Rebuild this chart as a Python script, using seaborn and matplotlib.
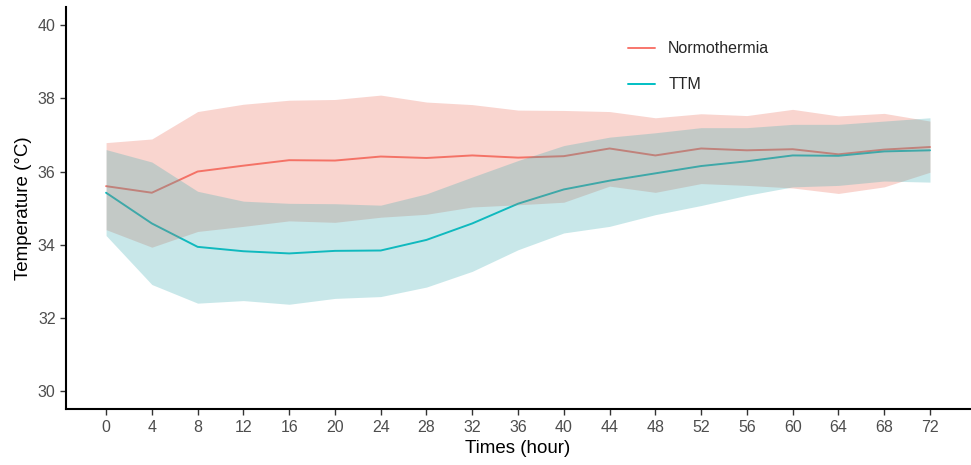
import numpy as np
import pandas as pd
import matplotlib
matplotlib.use("Agg")
import matplotlib.pyplot as plt
import seaborn as sns

hours = [0, 4, 8, 12, 16, 20, 24, 28, 32, 36, 40, 44, 48, 52, 56, 60, 64, 68, 72]

norm_mean = [35.60, 35.42, 36.00, 36.16, 36.31, 36.30, 36.41, 36.37, 36.44, 36.38,
             36.42, 36.63, 36.44, 36.63, 36.58, 36.61, 36.47, 36.60, 36.67]
norm_upper = [36.79, 36.89, 37.64, 37.84, 37.95, 37.97, 38.09, 37.90, 37.83, 37.68,
              37.67, 37.64, 37.47, 37.58, 37.53, 37.70, 37.52, 37.59, 37.38]
norm_lower = [34.41, 33.93, 34.36, 34.50, 34.65, 34.61, 34.75, 34.83, 35.03, 35.09,
              35.16, 35.60, 35.43, 35.67, 35.62, 35.55, 35.40, 35.58, 35.98]

ttm_mean = [35.42, 34.58, 33.94, 33.82, 33.76, 33.83, 33.84, 34.13, 34.58, 35.12,
            35.51, 35.75, 35.95, 36.15, 36.28, 36.44, 36.43, 36.55, 36.58]
ttm_upper = [36.60, 36.26, 35.46, 35.19, 35.13, 35.12, 35.08, 35.39, 35.85, 36.30,
             36.71, 36.94, 37.06, 37.20, 37.20, 37.29, 37.29, 37.38, 37.47]
ttm_lower = [34.25, 32.91, 32.40, 32.47, 32.37, 32.53, 32.58, 32.84, 33.27, 33.86,
             34.32, 34.50, 34.82, 35.07, 35.35, 35.58, 35.62, 35.74, 35.71]

groups = ["Normothermia", "TTM"]
colors = {"Normothermia": "#F8766D", "TTM": "#00BFC4"}
fills = {"Normothermia": "#EB6955", "TTM": "#3AACB2"}

df = pd.DataFrame({
    "hour": hours * 2,
    "temp": norm_mean + ttm_mean,
    "lo": norm_lower + ttm_lower,
    "hi": norm_upper + ttm_upper,
    "group": ["Normothermia"] * len(hours) + ["TTM"] * len(hours),
})

sns.set_theme(style="ticks")
plt.rcParams["font.family"] = ["Liberation Sans", "DejaVu Sans"]

fig = plt.figure(figsize=(9.71, 4.65), dpi=100)
ax = fig.add_axes([0.068, 0.12, 0.931, 0.865])

# lines first, ribbons drawn over them (like the original)
sns.lineplot(data=df, x="hour", y="temp", hue="group", palette=colors,
             linewidth=1.4, ax=ax, zorder=1, legend=False)
for g in groups:
    sub = df[df["group"] == g]
    ax.fill_between(sub["hour"], sub["lo"], sub["hi"], color=fills[g],
                    alpha=0.28, linewidth=0, zorder=2)

handles = [plt.Line2D([], [], color=colors[g], lw=1.4) for g in groups]
ax.legend(handles, groups, loc="upper left", bbox_to_anchor=(0.606, 0.95),
          frameon=False, fontsize=11.5, labelspacing=1.3, handlelength=1.7,
          handletextpad=0.8)

ax.set_xlim(-3.5, 75.5)
ax.set_ylim(29.5, 40.5)
ax.set_xticks(hours)
ax.set_yticks([30, 32, 34, 36, 38, 40])
ax.set_xlabel("Times (hour)", fontsize=13.5, color="black")
ax.set_ylabel("Temperature (°C)", fontsize=13.5, color="black")
ax.tick_params(axis="both", labelsize=11.5, labelcolor="#4D4D4D", color="#333333",
               length=4, width=1)
for s in ["left", "bottom"]:
    ax.spines[s].set_linewidth(1.5)
    ax.spines[s].set_color("black")
sns.despine(ax=ax)

fig.savefig("out.png", dpi=100)
